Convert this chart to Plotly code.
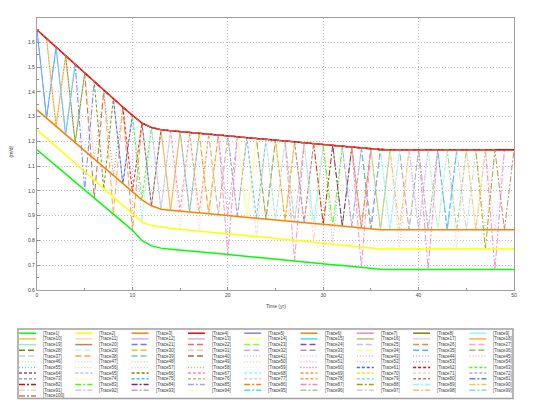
import plotly.graph_objects as go

# ---------------- data ----------------
YEARS = list(range(0, 51))

# envelope curves (value at each year 0..50)
TOP = [1.650, 1.615, 1.580, 1.545, 1.510, 1.475, 1.440, 1.405, 1.372, 1.338,
       1.305, 1.274, 1.256, 1.247, 1.243, 1.240, 1.236, 1.233, 1.229, 1.226,
       1.222, 1.219, 1.215, 1.212, 1.208, 1.205, 1.201, 1.198, 1.194, 1.191,
       1.187, 1.184, 1.180, 1.177, 1.173, 1.170, 1.166, 1.166, 1.166, 1.166,
       1.166, 1.166, 1.166, 1.166, 1.166, 1.166, 1.166, 1.166, 1.166, 1.166,
       1.166]
BOT = [1.327, 1.294, 1.261, 1.228, 1.195, 1.162, 1.129, 1.096, 1.063, 1.030,
       0.997, 0.964, 0.940, 0.926, 0.922, 0.919, 0.915, 0.911, 0.908, 0.904,
       0.901, 0.897, 0.893, 0.890, 0.886, 0.883, 0.879, 0.875, 0.872, 0.868,
       0.865, 0.861, 0.857, 0.854, 0.850, 0.847, 0.843, 0.843, 0.843, 0.843,
       0.843, 0.843, 0.843, 0.843, 0.843, 0.843, 0.843, 0.843, 0.843, 0.843,
       0.843]
YEL = [1.247, 1.213, 1.179, 1.145, 1.111, 1.077, 1.043, 1.009, 0.975, 0.941,
       0.907, 0.874, 0.860, 0.853, 0.849, 0.845, 0.842, 0.838, 0.834, 0.830,
       0.827, 0.823, 0.819, 0.815, 0.812, 0.808, 0.804, 0.800, 0.796, 0.793,
       0.789, 0.785, 0.781, 0.777, 0.774, 0.770, 0.766, 0.766, 0.766, 0.766,
       0.766, 0.766, 0.766, 0.766, 0.766, 0.766, 0.766, 0.766, 0.766, 0.766,
       0.766]
GRN = [1.166, 1.134, 1.101, 1.069, 1.036, 1.004, 0.971, 0.939, 0.906, 0.874,
       0.841, 0.800, 0.778, 0.769, 0.765, 0.762, 0.758, 0.754, 0.751, 0.747,
       0.743, 0.739, 0.736, 0.732, 0.728, 0.725, 0.721, 0.717, 0.714, 0.710,
       0.706, 0.702, 0.699, 0.695, 0.691, 0.688, 0.684, 0.683, 0.683, 0.683,
       0.683, 0.683, 0.683, 0.683, 0.683, 0.683, 0.683, 0.683, 0.683, 0.683,
       0.683]

TRACE_NAMES = ["[Trace%d]" % i for i in range(1, 101)]

COLORS = [
    "#00ff00", "#ffff00", "#ff8000", "#ff0000", "#8080ff", "#ff7f00", "#ff80c0", "#808000", "#80ffff", "#ffc040",
    "#ffd8b0", "#d0b0ff", "#c0c0c0", "#ffff90", "#40e0ff", "#a0d070", "#d8d8d8", "#ffb040", "#90e8e8", "#c08060",
    "#6080ff", "#ff6060", "#80ff40", "#a040a0", "#c0c0ff", "#ff8040", "#ffa0c8", "#808000", "#b0ffff", "#ffc000",
    "#ffc8a0", "#c8a8ff", "#a0a0a0", "#ffff80", "#40c0ff", "#90c060", "#d0d0d0", "#ffa040", "#60d0d0", "#b06040",
    "#c0c0ff", "#ffc0d0", "#c0c0c0", "#c0a0ff", "#c8c8c8", "#ffd0b0", "#ffc0e0", "#c0e0a0", "#c0ffff", "#ffd080",
    "#ffb0d0", "#d0c0ff", "#b0b0b0", "#ffffc0", "#40e0ff", "#d0e0a0", "#d0d0d0", "#ffa060", "#c0ffff", "#c08060",
    "#4060ff", "#ff0000", "#40ff00", "#a040a0", "#c0c0ff", "#808000", "#ff80c0", "#80ffff", "#ff9040", "#ffe000",
    "#ffd0b0", "#c0a0ff", "#a0a0a0", "#ffffa0", "#40c0ff", "#a0d080", "#d0d0d0", "#ffa040", "#80e0e0", "#c08060",
    "#6080ff", "#e00000", "#40ff00", "#802080", "#a0a0ff", "#ff8000", "#ff80c0", "#a0a000", "#80ffff", "#ffc040",
    "#ffd0b0", "#d0c0ff", "#b0b0b0", "#ffffc0", "#40e0ff", "#a0d080", "#d0d0d0", "#ffc060", "#80e0d0", "#c08060",
]
DASHES = (["solid"] * 20 + ["6px,3px"] * 20 + ["1px,2px"] * 20
          + ["3px,2px"] * 20 + ["6px,2px,2px,2px"] * 20)

# year at which each of Trace5..Trace100 dips below the upper curve
DROP_YEAR = [1, 2, 3, 4, 29, 36, 14, 34, 9, 22, 3, 12, 13, 14, 42, 16, 43, 18, 19, 35,
             21, 10, 19, 24, 25, 26, 27, 28, 39, 30, 1, 32, 33, 8, 35, 6, 37, 47, 39, 40,
             41, 15, 17, 5, 45, 46, 38, 48,
             31, 2, 11, 4, 44, 6, 7, 8, 9, 10, 11, 12, 13, 7, 15, 16, 17, 18, 23, 20,
             21, 22, 23, 24, 25, 26, 27, 28, 5, 30, 31, 32, 33, 34, 20, 47, 37, 38, 29, 40,
             41, 42, 43, 44, 45, 46, 36, 49]
# curve the dip reaches: B = lower orange curve, Y = yellow curve, G = green curve
DROP_LEVEL = ["B"] * 96
for trace_no, lvl in [(81, "G"), (40, "G"), (38, "G"), (26, "G"), (87, "G"),
                      (55, "Y"), (66, "Y"), (46, "Y"), (47, "Y"), (71, "Y"),
                      (91, "Y"), (53, "Y"), (51, "Y"), (57, "Y"), (88, "Y")]:
    DROP_LEVEL[trace_no - 5] = lvl
EXTRA_DROPS = {87: [(27, "G"), (34, "G"), (41, "G"), (48, "G")]}

LEVELS = {"B": BOT, "Y": YEL, "G": GRN}

# ---------------- figure ----------------
# the page body adds an 8 px margin, so the figure is sized/placed to compensate
OFF = 8
W, H = 541 - OFF, 400 - OFF
ML, MR, MT, MB = 37 - OFF, 27, 18 - OFF, 110
PW, PH = W - ML - MR, H - MT - MB


def px2x(p):
    return (p - OFF - ML) / PW


def px2y(p):
    return (H - MB - (p - OFF)) / PH


fig = go.Figure()


def series_for(k):
    if k == 1:
        return GRN
    if k == 2:
        return YEL
    if k == 3:
        return BOT
    if k == 4:
        return TOP
    vals = list(TOP)
    events = [(DROP_YEAR[k - 5], DROP_LEVEL[k - 5])] + EXTRA_DROPS.get(k, [])
    for yr, lvl in events:
        vals[yr] = LEVELS[lvl][yr]
    return vals


order = list(range(5, 100)) + [1, 2, 3, 4, 100]
for k in order:
    fig.add_trace(go.Scatter(
        x=YEARS, y=series_for(k), mode="lines", name=TRACE_NAMES[k - 1],
        showlegend=False,
        line=dict(color=COLORS[k - 1], dash=DASHES[k - 1],
                  width=1.5 if k <= 4 else 0.9),
    ))

FONT = "Liberation Sans, Arial, sans-serif"

# manual legend (matches the compact 9-column legend box)
shapes = [dict(type="rect", xref="paper", yref="paper",
               x0=px2x(18), x1=px2x(513), y0=px2y(398.5), y1=px2y(329),
               line=dict(color="#a0a0a0", width=1.5), fillcolor="rgba(0,0,0,0)")]
annotations = []
for i in range(100):
    r, c = divmod(i, 9)
    yy = 333.2 + r * 5.7
    x0 = 19 + c * 56.3
    shapes.append(dict(type="line", xref="paper", yref="paper",
                       x0=px2x(x0), x1=px2x(x0 + 17), y0=px2y(yy), y1=px2y(yy),
                       line=dict(color=COLORS[i], dash=DASHES[i], width=1.5)))
    annotations.append(dict(xref="paper", yref="paper", x=px2x(x0 + 22), y=px2y(yy),
                            text=TRACE_NAMES[i], showarrow=False, xanchor="left",
                            yanchor="middle",
                            font=dict(size=4.5, color="#404040", family=FONT)))

annotations.append(dict(xref="paper", yref="paper", x=0.5, y=px2y(305.5),
                        text="Time (yr)", showarrow=False, xanchor="center",
                        yanchor="middle",
                        font=dict(size=5, color="#404040", family=FONT)))
annotations.append(dict(xref="paper", yref="paper", x=px2x(10.5), y=px2y(152),
                        text="(m/d)", showarrow=False, textangle=-90,
                        xanchor="center", yanchor="middle",
                        font=dict(size=5, color="#404040", family=FONT)))

axis_common = dict(
    showline=True, linecolor="#a0a0a0", linewidth=1.2, mirror=True,
    showgrid=True, gridcolor="#c0c0c0", griddash="1px,2px", gridwidth=1,
    zeroline=False, ticks="inside", ticklen=3, tickcolor="#909090",
    tickfont=dict(size=5, color="#404040", family=FONT),
)

fig.update_layout(
    width=W, height=H, autosize=False,
    margin=dict(l=ML, r=MR, t=MT, b=MB, pad=0),
    paper_bgcolor="white", plot_bgcolor="white",
    showlegend=False,
    xaxis=dict(range=[0, 50], tickvals=[0, 10, 20, 30, 40, 50],
               minor=dict(tickvals=[5, 15, 25, 35, 45], ticks="inside",
                          ticklen=2, tickcolor="#909090", showgrid=False),
               **axis_common),
    yaxis=dict(range=[0.6, 1.698],
               tickvals=[0.6, 0.7, 0.8, 0.9, 1.0, 1.1, 1.2, 1.3, 1.4, 1.5, 1.6],
               ticktext=["0.6", "0.7", "0.8", "0.9", "1.0", "1.1", "1.2", "1.3",
                         "1.4", "1.5", "1.6"],
               minor=dict(tickvals=[0.65, 0.75, 0.85, 0.95, 1.05, 1.15, 1.25,
                                    1.35, 1.45, 1.55, 1.65],
                          ticks="inside", ticklen=2, tickcolor="#909090",
                          showgrid=False),
               **axis_common),
    shapes=shapes,
    annotations=annotations,
)

fig.write_html("out.html")
